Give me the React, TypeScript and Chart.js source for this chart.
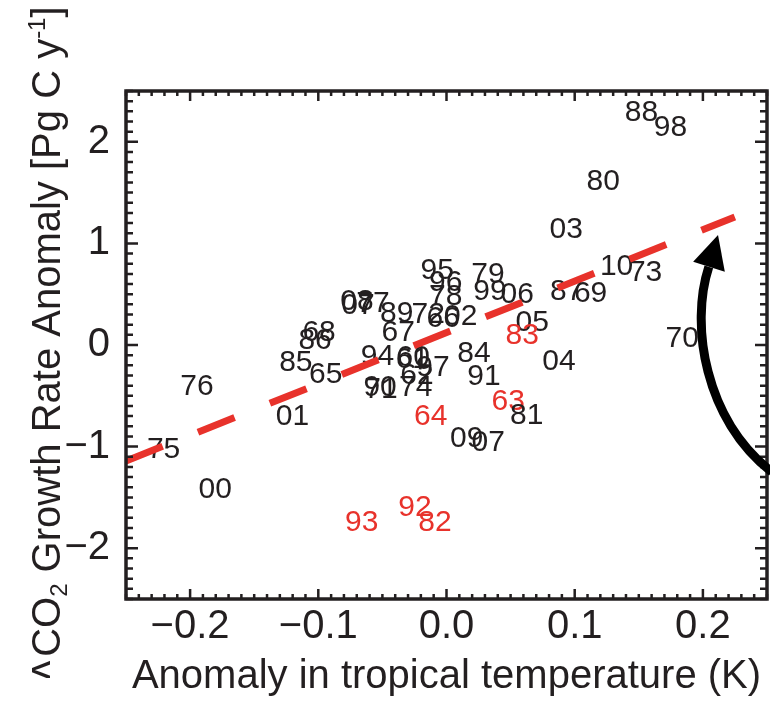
import React, { useEffect, useRef } from 'react';
import { Chart, registerables } from 'chart.js';

Chart.register(...registerables);

// ---- data ----
const yearLabels = [
  '88', '98', '80', '03', '10', '73', '87', '69', '06', '79', '99', '05', '83',
  '95', '96', '78', '89', '72', '66', '02', '08', '07', '77', '67', '94', '60',
  '61', '97', '62', '90', '71', '74', '68', '86', '85', '65', '76', '01', '75',
  '00', '93', '92', '82', '64', '63', '81', '84', '91', '04', '70', '09',
];
const tempAnomaly = [
  0.1521, 0.1747, 0.1222, 0.0934, 0.1327, 0.1553, 0.0937, 0.1124, 0.0552, 0.0323, 0.0339, 0.0669, 0.0591,
  -0.0072, -0.0006, -0.0006, -0.0388, -0.0142, -0.0025, 0.0111, -0.0698, -0.0690, -0.0573, -0.0376, -0.0539, -0.0259,
  -0.0265, -0.0105, -0.0230, -0.0518, -0.0511, -0.0240, -0.0994, -0.1025, -0.1175, -0.0942, -0.1947, -0.1202, -0.2207,
  -0.1804, -0.0661, -0.0246, -0.0090, -0.0123, 0.0482, 0.0625, 0.0214, 0.0292, 0.0877, 0.1838, 0.0157,
];
const co2Anomaly = [
  2.313, 2.165, 1.634, 1.158, 0.797, 0.738, 0.551, 0.525, 0.519, 0.712, 0.551, 0.239, 0.115,
  0.755, 0.633, 0.502, 0.335, 0.325, 0.285, 0.305, 0.453, 0.415, 0.433, 0.141, -0.089, -0.098,
  -0.118, -0.197, -0.276, -0.401, -0.413, -0.401, 0.145, 0.062, -0.148, -0.269, -0.384, -0.679, -1.007,
  -1.401, -1.729, -1.575, -1.729, -0.679, -0.531, -0.672, -0.066, -0.285, -0.138, 0.082, -0.903,
];
// the year 07 sits close to 09 at the bottom
const extraLabels = ['07'];
const extraTemp = [0.0326];
const extraCo2 = [-0.935];

const volcanicYears = ['63', '64', '82', '83', '92', '93'];

const fitX = [-0.25, 0.2249];
const fitY = [-1.142, 1.26];

const xTicks = [-0.2, -0.1, 0.0, 0.1, 0.2];
const yTicks = [-2, -1, 0, 1, 2];

// arrow annotation (tail, control 1, control 2, shaft end, tip, head left, head right)
const arrowX = [0.2537, 0.2015, 0.1898, 0.2046, 0.2118, 0.1924, 0.2171];
const arrowY = [-1.25, -0.738, 0.197, 0.768, 1.083, 0.82, 0.721];

const xTitle = 'Anomaly in tropical temperature (K)';

// ---- styles ----
const FONT = '"Liberation Sans", Arial, Helvetica, sans-serif';
const INK = '#231f20';
const RED = '#e8322b';
const LABEL_FS = 30;

const allLabels = yearLabels.concat(extraLabels);
const allTemp = tempAnomaly.concat(extraTemp);
const allCo2 = co2Anomaly.concat(extraCo2);

const fmt = (v: number, d: number) => {
  const s = Math.abs(v).toFixed(d);
  return v < 0 ? '\u2212' + s : s;
};

const labelPlugin = {
  id: 'yearLabels',
  beforeDatasetsDraw(chart: any) {
    const meta = chart.getDatasetMeta(0);
    const ctx = chart.ctx;
    ctx.save();
    ctx.font = `${LABEL_FS}px ${FONT}`;
    ctx.textAlign = 'center';
    ctx.textBaseline = 'alphabetic';
    meta.data.forEach((el: any, i: number) => {
      ctx.fillStyle = volcanicYears.includes(allLabels[i]) ? RED : INK;
      ctx.fillText(allLabels[i], el.x, el.y + LABEL_FS * 0.358);
    });
    ctx.restore();
  },
};

const framePlugin = {
  id: 'frame',
  afterDatasetsDraw(chart: any) {
    const { ctx, chartArea: a, scales } = chart;
    const xs = scales.x;
    const ys = scales.y;
    ctx.save();
    ctx.strokeStyle = INK;
    ctx.lineWidth = 2.5;
    ctx.beginPath();
    for (let k = -25; k <= 25; k++) {
      const px = xs.getPixelForValue(k / 100);
      const len = k % 10 === 0 ? 10 : 5;
      ctx.moveTo(px, a.bottom);
      ctx.lineTo(px, a.bottom - len);
      ctx.moveTo(px, a.top);
      ctx.lineTo(px, a.top + len);
    }
    for (let k = -25; k <= 25; k++) {
      const py = ys.getPixelForValue(k / 10);
      const len = k % 10 === 0 ? 12 : 7;
      ctx.moveTo(a.left, py);
      ctx.lineTo(a.left + len, py);
      ctx.moveTo(a.right, py);
      ctx.lineTo(a.right - len, py);
    }
    ctx.stroke();
    ctx.lineWidth = 3.5;
    ctx.strokeRect(a.left, a.top, a.right - a.left, a.bottom - a.top);
    ctx.restore();
  },
};

const overlayPlugin = {
  id: 'overlay',
  afterDraw(chart: any) {
    const { ctx, chartArea: a, scales } = chart;
    const xs = scales.x;
    const ys = scales.y;
    const p = arrowX.map((x, i) => [xs.getPixelForValue(x), ys.getPixelForValue(arrowY[i])]);
    ctx.save();
    ctx.strokeStyle = '#000';
    ctx.fillStyle = '#000';
    ctx.lineWidth = 9;
    ctx.lineCap = 'butt';
    ctx.beginPath();
    ctx.moveTo(p[0][0], p[0][1]);
    ctx.bezierCurveTo(p[1][0], p[1][1], p[2][0], p[2][1], p[3][0], p[3][1]);
    ctx.stroke();
    ctx.beginPath();
    ctx.moveTo(p[4][0], p[4][1]);
    ctx.lineTo(p[5][0], p[5][1]);
    ctx.lineTo(p[6][0], p[6][1]);
    ctx.closePath();
    ctx.fill();
    ctx.restore();

    // x title
    ctx.save();
    ctx.fillStyle = INK;
    ctx.font = `40px ${FONT}`;
    ctx.textAlign = 'center';
    ctx.textBaseline = 'alphabetic';
    ctx.fillText(xTitle, (a.left + a.right) / 2, 688);
    ctx.restore();

    // y title (rotated, with subscript and superscript)
    const fs = 40;
    const small = 24;
    const parts: [string, number, number][] = [
      ['\u0394', fs, 0],
      ['CO', fs, 0],
      ['2', small, 7],
      [' Growth Rate Anomaly [Pg C y', fs, 0],
      ['-1', small, -15],
      [']', fs, 0],
    ];
    ctx.save();
    ctx.fillStyle = INK;
    let total = 0;
    parts.forEach(([t, s]) => {
      ctx.font = `${s}px ${FONT}`;
      total += ctx.measureText(t).width;
    });
    const bx = 60;
    const cy = (a.top + a.bottom) / 2;
    let pos = -total / 2;
    parts.forEach(([t, s, dy], idx) => {
      ctx.font = `${s}px ${FONT}`;
      const w = ctx.measureText(t).width;
      ctx.save();
      if (idx === 0) {
        // the delta sign is mostly hidden in the source figure
        ctx.beginPath();
        ctx.rect(0, 0, 50, 678);
        ctx.clip();
      }
      ctx.translate(bx, cy);
      ctx.rotate(-Math.PI / 2);
      ctx.textAlign = 'left';
      ctx.fillText(t, pos, dy);
      ctx.restore();
      pos += w;
    });
    ctx.restore();
  },
};

export default function App() {
  const ref = useRef<HTMLCanvasElement | null>(null);
  useEffect(() => {
    document.body.style.margin = '0';
    const canvas = ref.current;
    if (!canvas) return;
    const chart = new Chart(canvas, {
      type: 'scatter',
      data: {
        datasets: [
          {
            data: allTemp.map((x, i) => ({ x, y: allCo2[i] })),
            pointRadius: 0,
            pointHoverRadius: 0,
            showLine: false,
          },
          {
            data: fitX.map((x, i) => ({ x, y: fitY[i] })),
            showLine: true,
            borderColor: RED,
            borderWidth: 7,
            borderDash: [39.5, 38],
            borderCapStyle: 'butt',
            pointRadius: 0,
            pointHoverRadius: 0,
            fill: false,
          },
        ],
      },
      options: {
        animation: false,
        responsive: false,
        devicePixelRatio: 1,
        events: [],
        layout: { padding: { top: 91, right: 3, left: 0, bottom: 0 } },
        plugins: { legend: { display: false }, tooltip: { enabled: false } },
        scales: {
          x: {
            type: 'linear',
            min: -0.25,
            max: 0.25,
            afterBuildTicks: (s: any) => {
              s.ticks = xTicks.map((v) => ({ value: v }));
            },
            afterFit: (s: any) => {
              s.height = 110;
            },
            grid: { display: false, drawTicks: false },
            border: { display: false },
            ticks: {
              autoSkip: false,
              maxRotation: 0,
              padding: 4,
              color: INK,
              font: { family: FONT, size: 40 },
              callback: (v: any) => fmt(Number(v), 1),
            },
          },
          y: {
            type: 'linear',
            min: -2.5,
            max: 2.5,
            afterBuildTicks: (s: any) => {
              s.ticks = yTicks.map((v) => ({ value: v }));
            },
            afterFit: (s: any) => {
              s.width = 126;
            },
            grid: { display: false, drawTicks: false },
            border: { display: false },
            ticks: {
              autoSkip: false,
              padding: 16,
              color: INK,
              font: { family: FONT, size: 40 },
              callback: (v: any) => fmt(Number(v), 0),
            },
          },
        },
      },
      plugins: [labelPlugin, framePlugin, overlayPlugin],
    } as any);
    return () => chart.destroy();
  }, []);
  return (
    <div style={{ width: 770, height: 709 }}>
      <canvas ref={ref} width={770} height={709} />
    </div>
  );
}
